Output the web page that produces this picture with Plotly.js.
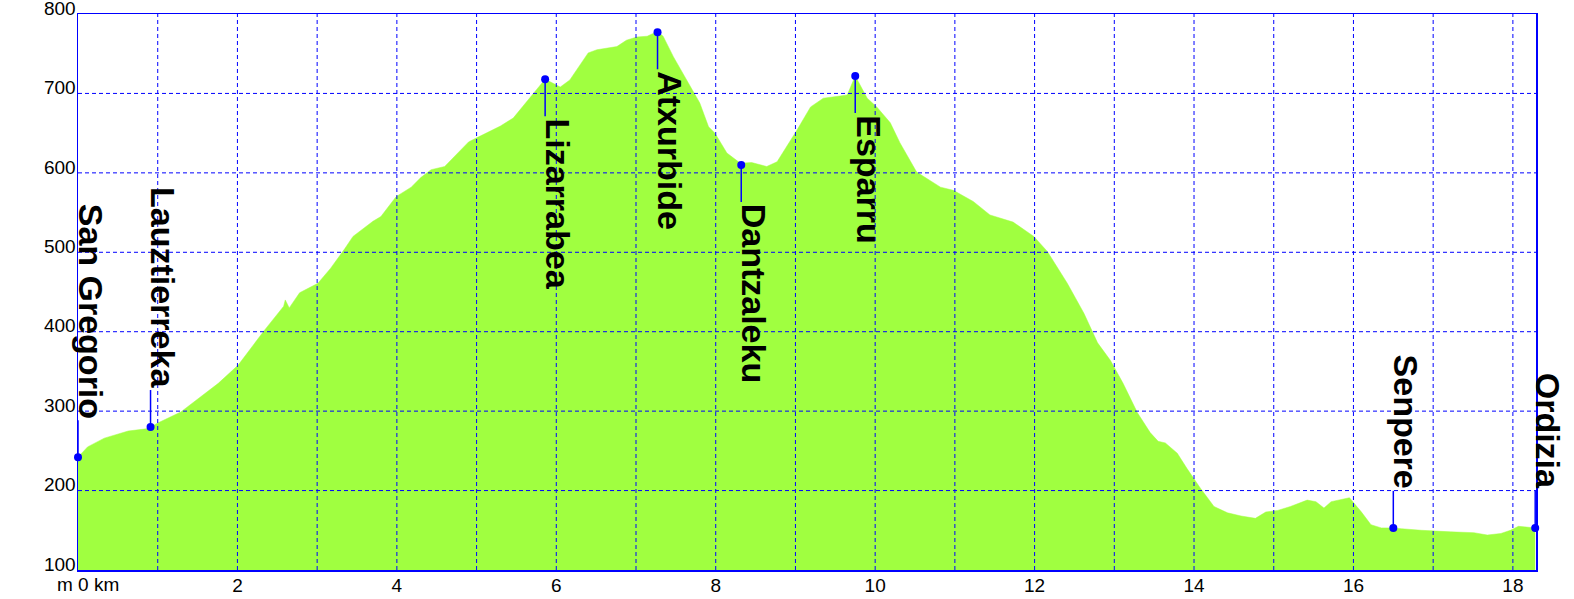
<!DOCTYPE html>
<html>
<head>
<meta charset="utf-8">
<script src="https://cdn.plot.ly/plotly-3.0.1.min.js"></script>
<style>
  html, body { margin: 0; padding: 0; background: #fff; }
  #chart { width: 1574px; height: 599px; }
</style>
</head>
<body>
<div id="chart"></div>
<script>
// Profile: distance (km) and elevation (m)
const distanceKm = [0, 0.12, 0.33, 0.63, 0.88, 1.0, 1.29, 1.76, 2.01, 2.09, 2.34, 2.58, 2.60, 2.65, 2.78,
  3.01, 3.17, 3.35, 3.45, 3.70, 3.80, 3.99, 4.18, 4.30, 4.43, 4.60, 4.90, 5.02, 5.30, 5.46, 5.69, 5.86,
  6.05, 6.17, 6.40, 6.51, 6.76, 6.88, 7.01, 7.14, 7.27, 7.34, 7.47, 7.58, 7.68, 7.80, 7.91, 7.99, 8.14,
  8.31, 8.45, 8.64, 8.77, 9.02, 9.19, 9.35, 9.65, 9.75, 9.90, 10.02, 10.19, 10.31, 10.52, 10.82, 10.98,
  11.23, 11.44, 11.73, 11.99, 12.16, 12.41, 12.62, 12.79, 12.95, 13.11, 13.29, 13.45, 13.55, 13.64, 13.79,
  13.91, 14.08, 14.25, 14.42, 14.59, 14.77, 14.90, 15.05, 15.21, 15.42, 15.53, 15.63, 15.72, 15.95, 16.10,
  16.22, 16.35, 16.50, 16.60, 16.85, 17.22, 17.51, 17.68, 17.85, 17.97, 18.07, 18.28];
const elevationM = [242, 255, 266, 275, 278, 285, 299, 335, 358, 369, 402, 432, 440, 430, 449,
  461, 480, 505, 520, 539, 545, 570, 582, 594, 604, 608, 639, 645, 659, 669, 698, 718,
  708, 717, 751, 755, 759, 767, 771, 772, 778, 772, 746, 727, 709, 688, 658, 650, 625,
  612, 613, 608, 614, 654, 683, 694, 698, 722, 694, 683, 663, 638, 601, 582, 578,
  564, 547, 538, 520, 501, 461, 423, 386, 364, 335, 298, 273, 262, 260, 247,
  228, 203, 180, 172, 168, 165, 173, 175, 180, 188, 186, 178, 186, 191, 173,
  157, 153, 153, 152, 150, 148, 147, 144, 146, 150, 155, 153];

// Waypoints
const wpNames = ["San Gregorio", "Lauztierreka", "Lizarrabea", "Atxurbide", "Dantzaleku", "Esparru", "Senpere", "Ordizia"];
const wpKm = [0, 0.91, 5.86, 7.27, 8.32, 9.75, 16.5, 18.28];
const wpElev = [242, 280, 718, 777, 610, 722, 153, 153];

// Axis ticks
const xTickVals = [0, 1, 2, 3, 4, 5, 6, 7, 8, 9, 10, 11, 12, 13, 14, 15, 16, 17, 18];
const xTickText = ["", "", "2", "", "4", "", "6", "", "8", "", "10", "", "12", "", "14", "", "16", "", "18"];
const yTickVals = [100, 200, 300, 400, 500, 600, 700, 800];
const xMax = 18.29, yMin = 100, yMax = 800;

const BLUE = "#0000ff";
const GREEN = "#a0ff40";
const tickFont = { family: "Liberation Sans, Arial, sans-serif", size: 19, color: "#000" };

const traces = [
  {
    x: distanceKm, y: elevationM, type: "scatter", mode: "lines",
    fill: "tozeroy", fillcolor: GREEN, line: { color: GREEN, width: 0.5 },
    hoverinfo: "skip", showlegend: false
  },
  {
    x: wpKm, y: wpElev, type: "scatter", mode: "markers",
    marker: { color: BLUE, size: 8 }, cliponaxis: false,
    hoverinfo: "skip", showlegend: false
  }
];

const shapes = [];
// Dashed grid drawn above the fill
xTickVals.forEach(v => {
  if (v > 0) shapes.push({ type: "line", xref: "x", yref: "paper", x0: v, x1: v, y0: 0, y1: 1,
    layer: "above", line: { color: BLUE, width: 1, dash: "4px,3px" } });
});
yTickVals.forEach(v => {
  if (v > yMin && v < yMax) shapes.push({ type: "line", xref: "paper", yref: "y", x0: 0, x1: 1, y0: v, y1: v,
    layer: "above", line: { color: BLUE, width: 1, dash: "4px,3px" } });
});

const GAP = 37;
const annotations = [];
wpNames.forEach((name, i) => {
  const below = wpElev[i] > 500;
  shapes.push({ type: "line", xref: "x", yref: "y", ysizemode: "pixel", yanchor: wpElev[i],
    x0: wpKm[i], x1: wpKm[i], y0: 0, y1: below ? -GAP : GAP,
    layer: "above", line: { color: BLUE, width: 1.5 } });
  annotations.push({
    x: wpKm[i], y: wpElev[i], xref: "x", yref: "y",
    text: name, showarrow: false, textangle: 90,
    xanchor: "left", yanchor: below ? "top" : "bottom",
    xshift: -8, yshift: below ? -GAP : GAP,
    font: { family: "Liberation Sans, Arial, sans-serif", size: 34, color: "#000", weight: "bold" }
  });
});
annotations.push({
  x: 0, y: 0, xref: "x", yref: "paper", text: "m 0 km", showarrow: false,
  xanchor: "center", yanchor: "top", xshift: 10, yshift: -2, font: tickFont
});

const layout = {
  width: 1574, height: 599,
  margin: { l: 78, r: 38, t: 14, b: 29, pad: 0 },
  paper_bgcolor: "#fff", plot_bgcolor: "#fff",
  showlegend: false,
  xaxis: {
    range: [0, xMax], tickvals: xTickVals, ticktext: xTickText,
    showgrid: false, zeroline: false, ticks: "",
    showline: true, mirror: true, linecolor: BLUE, linewidth: 1.5,
    tickfont: tickFont, ticklabelstandoff: -2, ticklabeloverflow: "allow",
    layer: "above traces", fixedrange: true
  },
  yaxis: {
    range: [yMin, yMax], tickvals: yTickVals,
    showgrid: false, zeroline: false, ticks: "",
    showline: true, mirror: true, linecolor: BLUE, linewidth: 1.5,
    tickfont: tickFont, ticklabelshift: -6, ticklabelstandoff: -3, ticklabeloverflow: "allow",
    layer: "above traces", fixedrange: true
  },
  shapes: shapes,
  annotations: annotations
};

Plotly.newPlot("chart", traces, layout, { staticPlot: true, displayModeBar: false });
</script>
</body>
</html>
